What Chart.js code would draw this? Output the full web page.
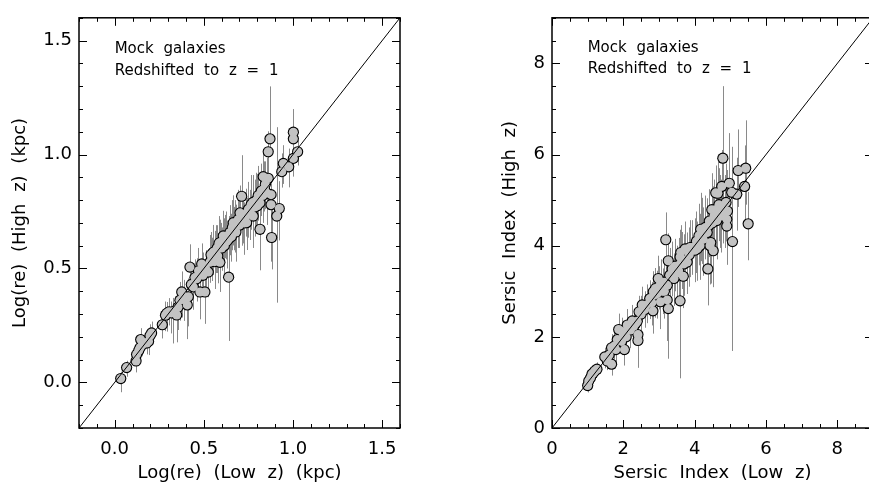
<!DOCTYPE html>
<html><head><meta charset="utf-8">
<script src="https://cdn.jsdelivr.net/npm/chart.js@4.4.1/dist/chart.umd.min.js"></script>
<style>
html,body{margin:0;padding:0;background:#fff;overflow:hidden;width:869px;height:484px;position:relative}
#wl{position:absolute;left:0;top:0;width:434px;height:484px}
#wr{position:absolute;left:473px;top:0;width:434px;height:484px}
canvas{display:block}
</style></head><body>
<div id="wl"><canvas id="cl" width="434" height="484"></canvas></div>
<div id="wr"><canvas id="cr" width="434" height="484"></canvas></div>
<script>
// ---------- Left panel: Log(re) ----------
const reLowZ = [0.034,0.067,0.120,0.123,0.135,0.142,0.146,0.155,0.180,0.190,0.198,0.207,0.267,0.285,0.292,0.305,0.318,0.329,0.348,0.355,0.366,0.376,0.380,0.390,0.407,0.413,0.422,0.430,0.441,0.450,0.460,0.470,0.478,0.488,0.495,0.506,0.510,0.525,0.534,0.540,0.545,0.553,0.560,0.565,0.570,0.575,0.578,0.585,0.590,0.590,0.598,0.600,0.609,0.615,0.620,0.625,0.630,0.639,0.640,0.646,0.655,0.660,0.665,0.670,0.675,0.680,0.690,0.693,0.700,0.703,0.712,0.715,0.720,0.728,0.735,0.740,0.745,0.750,0.760,0.765,0.775,0.777,0.785,0.790,0.795,0.800,0.805,0.815,0.815,0.822,0.830,0.833,0.833,0.840,0.845,0.852,0.855,0.861,0.861,0.871,0.877,0.877,0.880,0.909,0.923,0.937,0.946,0.976,1.002,1.002,1.002,1.026];
const reHighZ = [0.017,0.065,0.094,0.123,0.140,0.152,0.188,0.165,0.173,0.180,0.205,0.217,0.253,0.295,0.303,0.310,0.305,0.311,0.296,0.330,0.361,0.397,0.365,0.370,0.340,0.376,0.506,0.430,0.419,0.460,0.455,0.490,0.397,0.520,0.470,0.397,0.500,0.484,0.527,0.560,0.545,0.571,0.530,0.565,0.580,0.590,0.555,0.610,0.614,0.527,0.610,0.590,0.643,0.600,0.635,0.640,0.620,0.462,0.630,0.658,0.640,0.680,0.701,0.670,0.690,0.660,0.700,0.715,0.690,0.744,0.817,0.710,0.730,0.700,0.740,0.701,0.735,0.760,0.745,0.780,0.790,0.730,0.770,0.785,0.800,0.775,0.820,0.788,0.672,0.840,0.820,0.845,0.903,0.850,0.870,0.831,0.895,0.896,1.012,1.069,0.824,0.780,0.636,0.730,0.763,0.925,0.961,0.946,0.983,1.069,1.098,1.012];
const reErrPlus = [0.03,0.03,0.03,0.04,0.04,0.03,0.05,0.04,0.05,0.04,0.05,0.05,0.05,0.06,0.05,0.06,0.05,0.06,0.06,0.07,0.08,0.09,0.07,0.08,0.06,0.08,0.10,0.09,0.08,0.08,0.09,0.10,0.08,0.09,0.10,0.07,0.08,0.10,0.12,0.10,0.09,0.12,0.09,0.10,0.11,0.10,0.10,0.12,0.10,0.10,0.09,0.09,0.11,0.12,0.10,0.11,0.09,0.13,0.10,0.12,0.10,0.12,0.12,0.10,0.11,0.12,0.12,0.13,0.11,0.12,0.18,0.10,0.10,0.09,0.11,0.11,0.12,0.12,0.10,0.13,0.12,0.11,0.12,0.11,0.12,0.14,0.13,0.13,0.10,0.12,0.11,0.12,0.10,0.12,0.10,0.10,0.09,0.10,0.09,0.23,0.09,0.10,0.12,0.39,0.12,0.08,0.08,0.08,0.09,0.13,0.10,0.05];
const reErrMinus = [0.06,0.04,0.05,0.04,0.04,0.05,0.04,0.05,0.05,0.06,0.05,0.04,0.06,0.07,0.08,0.06,0.09,0.14,0.12,0.10,0.09,0.07,0.08,0.10,0.15,0.13,0.08,0.08,0.10,0.07,0.10,0.08,0.12,0.10,0.09,0.14,0.08,0.11,0.09,0.08,0.10,0.10,0.12,0.09,0.10,0.11,0.12,0.09,0.08,0.13,0.10,0.10,0.10,0.12,0.09,0.10,0.12,0.28,0.11,0.10,0.11,0.10,0.10,0.09,0.12,0.13,0.11,0.10,0.10,0.10,0.08,0.11,0.12,0.14,0.10,0.12,0.10,0.11,0.12,0.11,0.12,0.14,0.13,0.12,0.10,0.12,0.11,0.15,0.18,0.11,0.12,0.10,0.13,0.10,0.11,0.14,0.10,0.12,0.10,0.08,0.12,0.25,0.14,0.38,0.14,0.07,0.09,0.09,0.08,0.09,0.08,0.06];
const reRange = [-0.2, 1.6];
const reTicks = [0.0, 0.5, 1.0, 1.5];
const reMinorStep = 0.1;

// ---------- Right panel: Sersic index ----------
const nLowZ = [1.00,1.03,1.08,1.12,1.15,1.20,1.26,1.48,1.55,1.60,1.67,1.67,1.75,1.79,1.83,1.87,1.95,1.97,2.00,2.03,2.08,2.11,2.20,2.25,2.29,2.35,2.39,2.41,2.41,2.44,2.50,2.53,2.60,2.65,2.74,2.80,2.83,2.84,2.88,2.90,2.95,2.98,3.00,3.04,3.05,3.10,3.14,3.15,3.19,3.23,3.23,3.26,3.26,3.30,3.37,3.42,3.45,3.50,3.55,3.56,3.59,3.59,3.61,3.65,3.68,3.70,3.73,3.79,3.85,3.87,3.93,4.00,4.05,4.07,4.12,4.15,4.17,4.20,4.24,4.30,4.35,4.37,4.40,4.41,4.43,4.45,4.48,4.50,4.52,4.54,4.59,4.59,4.62,4.65,4.68,4.70,4.73,4.76,4.79,4.80,4.85,4.88,4.90,4.90,4.92,4.97,5.04,5.06,5.18,5.22,5.40,5.43,5.50];
const nHighZ = [0.93,1.03,1.10,1.18,1.20,1.25,1.29,1.56,1.47,1.60,1.40,1.76,1.80,1.72,1.94,2.16,1.90,2.12,2.05,1.72,2.00,2.26,2.15,2.35,2.23,2.30,2.34,2.05,1.92,2.55,2.50,2.70,2.60,2.70,2.84,2.75,2.57,2.99,2.92,3.06,2.95,3.28,3.10,2.77,3.20,3.00,3.20,3.00,4.13,3.13,2.81,3.67,2.62,3.35,3.49,3.28,3.55,3.40,3.45,3.57,2.79,3.75,3.85,3.70,3.33,3.60,3.93,3.64,3.80,3.96,3.96,3.90,4.10,3.93,4.22,4.00,4.36,4.30,4.14,4.40,4.29,3.49,4.45,4.54,4.00,4.07,4.79,4.50,3.89,4.65,4.79,5.16,4.55,5.15,4.90,4.75,4.65,5.30,5.92,4.85,4.75,4.95,4.58,4.43,4.76,5.37,5.17,4.09,5.13,5.65,5.30,5.70,4.48];
const nErrPlus = [0.12,0.15,0.10,0.15,0.12,0.12,0.15,0.20,0.20,0.25,0.25,0.30,0.30,0.30,0.25,0.35,0.30,0.30,0.30,0.30,0.30,0.35,0.30,0.35,0.30,0.35,0.40,0.35,0.40,0.35,0.40,0.40,0.40,0.45,0.40,0.45,0.40,0.45,0.50,0.45,0.50,0.50,0.45,0.50,0.50,0.50,0.50,0.55,0.60,0.55,0.50,0.60,0.50,0.60,0.60,0.55,0.60,0.60,0.65,0.60,0.60,0.60,0.60,0.60,0.70,0.65,0.60,0.65,0.60,0.60,0.60,0.70,0.65,0.60,0.70,0.70,0.80,0.75,0.70,0.70,0.75,0.70,0.75,0.70,0.70,0.70,0.80,0.80,0.70,0.80,0.80,0.60,0.80,0.70,0.80,0.80,0.80,0.80,1.58,0.85,0.80,0.85,0.80,0.85,0.90,1.10,1.00,0.80,0.80,0.90,0.90,1.05,0.70];
const nErrMinus = [0.15,0.12,0.10,0.12,0.12,0.12,0.15,0.25,0.20,0.20,0.25,0.25,0.30,0.30,0.30,0.30,0.30,0.30,0.30,0.35,0.30,0.30,0.40,0.30,0.35,0.30,0.35,0.50,0.60,0.30,0.35,0.35,0.40,0.40,0.45,0.50,0.50,0.45,0.50,0.50,0.55,0.45,0.50,0.60,0.50,0.50,0.50,0.60,0.70,0.60,0.90,0.55,1.10,0.60,0.60,0.60,0.55,0.60,0.60,0.70,1.70,0.65,0.60,0.65,0.70,0.70,0.60,0.70,0.70,0.65,0.60,0.70,0.70,0.70,0.65,0.75,0.70,0.70,0.80,0.70,0.80,0.80,0.70,0.70,0.85,0.90,0.75,0.80,0.80,0.70,0.80,0.60,0.85,0.70,0.80,0.80,0.80,0.70,0.70,0.80,0.80,0.85,0.90,0.85,0.80,0.90,0.80,2.40,0.80,0.80,0.90,0.80,0.80];
const nRange = [0, 9];
const nTicks = [0, 2, 4, 6, 8];
const nMinorStep = 0.5;

// ---------- Texts ----------
const annotationLines = ['Mock galaxies', 'Redshifted to z = 1'];
const reXTitle = 'Log(re) (Low z) (kpc)';
const reYTitle = 'Log(re) (High z) (kpc)';
const nXTitle = 'Sersic Index (Low z)';
const nYTitle = 'Sersic Index (High z)';

const FONT = '"DejaVu Sans", "Liberation Sans", sans-serif';

function makePanel(canvasId, p) {
  const pts = p.lowZ.map((v, i) => ({x: v, y: p.highZ[i]}));
  const diag = [{x: p.range[0], y: p.range[0]}, {x: p.range[1], y: p.range[1]}];

  const errorBars = {
    id: 'errorBars',
    beforeDatasetsDraw(chart) {
      const {ctx, chartArea: a, scales: {x, y}} = chart;
      ctx.save();
      ctx.beginPath(); ctx.rect(a.left, a.top, a.width, a.height); ctx.clip();
      ctx.strokeStyle = '#8a8a8a'; ctx.lineWidth = 1;
      ctx.beginPath();
      for (let i = 0; i < p.lowZ.length; i++) {
        const px = Math.round(x.getPixelForValue(p.lowZ[i])) + 0.5;
        ctx.moveTo(px, y.getPixelForValue(p.highZ[i] + p.errPlus[i]));
        ctx.lineTo(px, y.getPixelForValue(p.highZ[i] - p.errMinus[i]));
      }
      ctx.stroke();
      ctx.restore();
    }
  };

  const frame = {
    id: 'frame',
    beforeDraw(chart) { chart.ctx.wordSpacing = '6px'; },
    afterDraw(chart) {
      const {ctx, chartArea: a, scales: {x, y}} = chart;
      ctx.save();
      ctx.strokeStyle = '#000'; ctx.lineWidth = 1.5;
      ctx.strokeRect(a.left, a.top, a.width, a.height);
      ctx.lineWidth = 1;
      const n = Math.round((p.range[1] - p.range[0]) / p.minorStep);
      ctx.beginPath();
      for (let k = 0; k <= n; k++) {
        const v = p.range[0] + k * p.minorStep;
        const r = v / p.majorStep;
        const major = Math.abs(r - Math.round(r)) < 1e-6;
        const len = major ? 8 : 4;
        const px = Math.round(x.getPixelForValue(v)) + 0.5;
        ctx.moveTo(px, a.bottom); ctx.lineTo(px, a.bottom - len);
        ctx.moveTo(px, a.top); ctx.lineTo(px, a.top + len);
        const py = Math.round(y.getPixelForValue(v)) + 0.5;
        ctx.moveTo(a.left, py); ctx.lineTo(a.left + len, py);
        ctx.moveTo(a.right, py); ctx.lineTo(a.right - len, py);
      }
      ctx.stroke();
      // annotation
      ctx.fillStyle = '#000';
      ctx.font = '15px ' + FONT;
      ctx.wordSpacing = '5px';
      ctx.textAlign = 'left'; ctx.textBaseline = 'alphabetic';
      annotationLines.forEach((t, i) => {
        ctx.fillText(t, x.getPixelForValue(p.annX), y.getPixelForValue(p.annY[i]));
      });
      ctx.restore();
    }
  };

  const tickFont = {family: FONT, size: 18};
  const titleFont = {family: FONT, size: 18};

  return new Chart(document.getElementById(canvasId), {
    type: 'scatter',
    data: {
      datasets: [
        {data: diag, showLine: true, borderColor: '#000', borderWidth: 1, pointRadius: 0, order: 0},
        {data: pts, pointRadius: 4.5, backgroundColor: '#c3c3c3', borderWidth: 0, pointHoverRadius: 4.5, order: 1},
        {data: pts, pointRadius: 5.6, backgroundColor: '#000', borderWidth: 0, pointHoverRadius: 5.6, order: 2}
      ]
    },
    options: {
      responsive: false, animation: false, devicePixelRatio: 1,
      events: [],
      layout: {padding: {top: 13, right: 34, left: 0, bottom: 0}},
      plugins: {legend: {display: false}, tooltip: {enabled: false}},
      scales: {
        x: {
          type: 'linear', min: p.range[0], max: p.range[1],
          grid: {display: false, drawTicks: false}, border: {display: false},
          afterBuildTicks: s => { s.ticks = p.ticks.map(v => ({value: v})); },
          afterFit: s => { s.height = 56; },
          ticks: {padding: 11, color: '#000', font: tickFont, maxRotation: 0, autoSkip: false,
                  callback: v => Number(v).toFixed(p.dec)},
          title: {display: true, text: p.xTitle, color: '#000', font: titleFont, padding: {top: 0, bottom: 0}}
        },
        y: {
          type: 'linear', min: p.range[0], max: p.range[1],
          grid: {display: false, drawTicks: false}, border: {display: false},
          afterBuildTicks: s => { s.ticks = p.ticks.map(v => ({value: v})); },
          afterFit: s => { s.width = 79; },
          ticks: {padding: 7, color: '#000', font: tickFont, autoSkip: false,
                  callback: v => Number(v).toFixed(p.dec)},
          title: {display: true, text: p.yTitle, color: '#000', font: titleFont, padding: {top: p.yTitlePad, bottom: 0}}
        }
      }
    },
    plugins: [errorBars, frame]
  });
}

makePanel('cl', {
  lowZ: reLowZ, highZ: reHighZ, errPlus: reErrPlus, errMinus: reErrMinus,
  range: reRange, ticks: reTicks, minorStep: reMinorStep, majorStep: 0.5, dec: 1,
  xTitle: reXTitle, yTitle: reYTitle, yTitlePad: 10,
  annX: 0.0, annY: [1.445, 1.348]
});
makePanel('cr', {
  lowZ: nLowZ, highZ: nHighZ, errPlus: nErrPlus, errMinus: nErrMinus,
  range: nRange, ticks: nTicks, minorStep: nMinorStep, majorStep: 2, dec: 0,
  xTitle: nXTitle, yTitle: nYTitle, yTitlePad: 27,
  annX: 1.0, annY: [8.26, 7.78]
});
</script>
</body></html>
